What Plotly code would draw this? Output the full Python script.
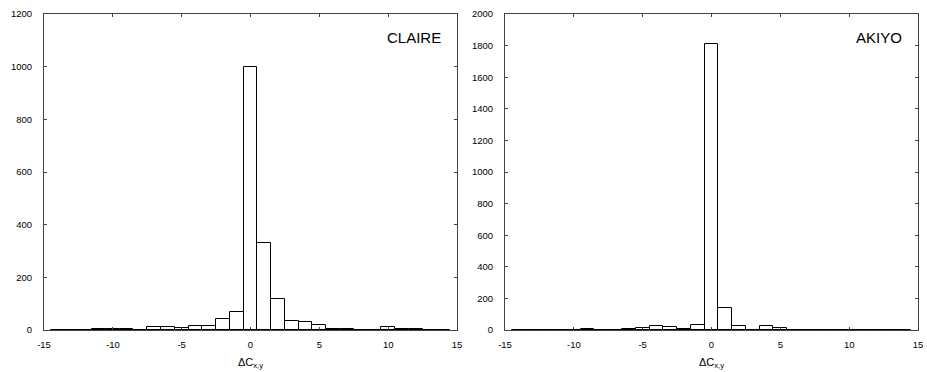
import plotly.graph_objects as go

bins = list(range(-14, 15))
claire = [1, 0, 0, 5, 5, 5, 1, 11, 11, 6, 15, 15, 41, 67, 1000, 329, 118, 35, 32, 20, 5, 5, 1, 1, 10, 5, 5, 1, 0]
akiyo = [1, 1, 1, 1, 2, 8, 1, 1, 6, 10, 25, 17, 8, 34, 1812, 137, 25, 2, 25, 10, 1, 1, 1, 1, 1, 1, 1, 1, 0]
xticks = [-15, -10, -5, 0, 5, 10, 15]
xticktext = ["-15", "-10", "-5", "0", "5", "10", "15"]
labels = ["CLAIRE", "AKIYO"]
ymax = [1200, 2000]

W, H = 927, 372
fig = go.Figure()
fam = "Liberation Sans, Arial, sans-serif"
font = dict(family=fam, size=9.5, color="#000")

def fx(px):
    return px / W

def fy(py):
    return (H - py) / H

doms_x = [[fx(44), fx(457)], [fx(505), fx(918)]]
dom_y = [fy(330), fy(14)]

for i, (vals, lab, ym) in enumerate(zip([claire, akiyo], labels, ymax)):
    n = "" if i == 0 else str(i + 1)
    fig.add_trace(go.Bar(x=bins, y=vals, width=1,
                         marker=dict(color="white", line=dict(color="black", width=1)),
                         xaxis="x" + n, yaxis="y" + n, showlegend=False, hoverinfo="skip"))
    fig.update_layout(**{
        "xaxis" + n: dict(domain=doms_x[i], range=[-15, 15], tickvals=xticks, ticktext=xticktext,
                          ticks="inside", ticklen=3, tickcolor="#444", showline=True,
                          linecolor="#444", linewidth=1, mirror="ticks", showgrid=False,
                          zeroline=False, tickfont=font, anchor="y" + n, automargin=False,
                          ticklabelstandoff=6,
                          title=dict(text="ΔC<sub>x,y</sub>", font=dict(family=fam, size=11, color="#000"), standoff=8)),
        "yaxis" + n: dict(domain=dom_y, range=[0, ym], dtick=200,
                          ticks="inside", ticklen=3, tickcolor="#444", showline=True,
                          linecolor="#444", linewidth=1, mirror="ticks", showgrid=False,
                          zeroline=False, tickfont=font, anchor="x" + n, automargin=False,
                          ticklabelstandoff=9),
    })
    fig.add_annotation(text=lab, xref="x" + n + " domain", yref="y" + n + " domain",
                       x=0.966, y=0.926, xanchor="right", yanchor="middle", showarrow=False,
                       font=dict(family=fam, size=15, color="#000"))

fig.update_layout(width=W, height=H, margin=dict(l=0, r=0, t=0, b=0),
                  plot_bgcolor="white", paper_bgcolor="white", bargap=0)
fig.write_html("out.html", config={"displayModeBar": False},
               post_script="document.body.style.margin='0';document.body.style.overflow='hidden';")
